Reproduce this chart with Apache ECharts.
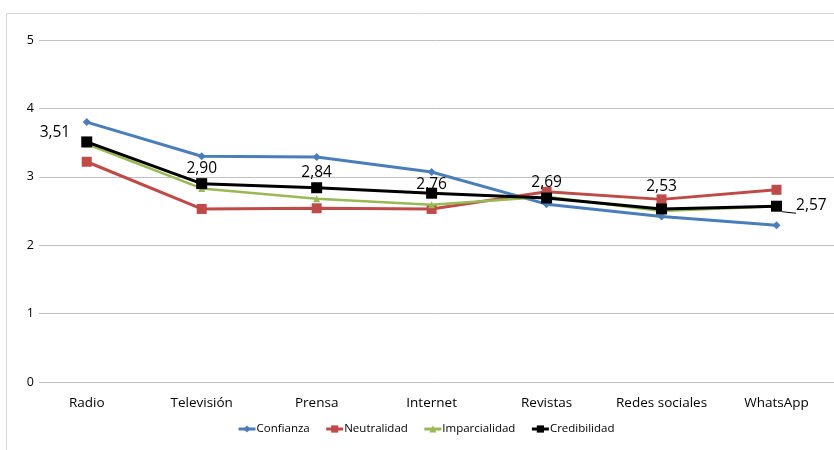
<!DOCTYPE html>
<html><head><meta charset="utf-8">
<script src="https://cdn.jsdelivr.net/npm/echarts@6/dist/echarts.min.js"></script>
<style>html,body{margin:0;padding:0;background:#fff}#c{width:834px;height:450px}</style>
</head><body><div id="c"></div>
<script>
const categories = ['Radio','Televisión','Prensa','Internet','Revistas','Redes sociales','WhatsApp'];
const confianza = [3.80, 3.30, 3.29, 3.07, 2.60, 2.42, 2.29];
const neutralidad = [3.22, 2.53, 2.54, 2.53, 2.78, 2.67, 2.81];
const imparcialidad = [3.48, 2.83, 2.68, 2.59, 2.71, 2.50, 2.57];
const credibilidad = [3.51, 2.90, 2.84, 2.76, 2.69, 2.53, 2.57];
const yTicks = [0, 1, 2, 3, 4, 5];

const FONT = 'Open Sans';
const chart = echarts.init(document.getElementById('c'), null, {renderer:'canvas'});
const fmt = v => v.toFixed(2).replace('.', ',');

const credData = credibilidad.map((v, i) => {
  const d = {value: v};
  if (i === 0) {
    d.label = {position: 'left', offset: [-9, -9]};
  } else if (i === categories.length - 1) {
    d.label = {position: 'right', offset: [12, -1]};
    d.labelLine = {show: true};
  } else if (i === 3) {
    d.label = {distance: -5};
  } else if (i === 5) {
    d.label = {distance: 9};
  }
  return d;
});

chart.setOption({
  animation: false,
  textStyle: {fontFamily: FONT},
  graphic: [{
    type: 'rect', shape: {x: 6.5, y: 13.5, width: 900, height: 500},
    style: {fill: 'none', stroke: '#d9d9d9', lineWidth: 1}, z: -1
  }],
  grid: [
    {left: 39, right: 0, top: 40, height: 342},
    {left: 29.25, width: 808.5, top: 40, height: 342}
  ],
  xAxis: [
    {gridIndex: 0, type: 'value', show: false, min: 0, max: 1},
    {gridIndex: 1, type: 'category', data: categories, boundaryGap: true,
     axisLine: {show: false}, axisTick: {show: false},
     axisLabel: {color: '#000', fontSize: 13.5, margin: 14, interval: 0, fontFamily: FONT}}
  ],
  yAxis: [
    {gridIndex: 0, type: 'value', min: 0, max: 5, interval: 1,
     axisLine: {show: false}, axisTick: {show: false},
     axisLabel: {color: '#000', fontSize: 12.5, margin: 5, fontFamily: FONT,
       formatter: v => yTicks.includes(v) ? String(v) : ''},
     splitLine: {lineStyle: {color: '#c0c0c0', width: 1}}},
    {gridIndex: 1, type: 'value', min: 0, max: 5, show: false, splitLine: {show: false}}
  ],
  legend: {
    bottom: 10, left: 232, itemGap: 15, itemWidth: 17, itemHeight: 9,
    lineStyle: {width: 3},
    textStyle: {color: '#000', fontSize: 11.5, fontFamily: FONT, padding: [0,0,0,-4]},
    data: ['Confianza','Neutralidad','Imparcialidad','Credibilidad']
  },
  series: [
    {name: 'Confianza', type: 'line', xAxisIndex: 1, yAxisIndex: 1, data: confianza,
     symbol: 'diamond', symbolSize: 8, color: '#4a7ebb', lineStyle: {width: 3, color: '#4a7ebb'},
     itemStyle: {color: '#4a7ebb'}, z: 2},
    {name: 'Neutralidad', type: 'line', xAxisIndex: 1, yAxisIndex: 1, data: neutralidad,
     symbol: 'rect', symbolSize: 10, lineStyle: {width: 3, color: '#be4b48'},
     itemStyle: {color: '#be4b48'}, z: 3},
    {name: 'Imparcialidad', type: 'line', xAxisIndex: 1, yAxisIndex: 1, data: imparcialidad,
     symbol: 'triangle', symbolSize: 7, lineStyle: {width: 2.5, color: '#98b954'},
     itemStyle: {color: '#98b954'}, z: 4},
    {name: 'Credibilidad', type: 'line', xAxisIndex: 1, yAxisIndex: 1, data: credData,
     symbol: 'rect', symbolSize: 11, lineStyle: {width: 3, color: '#000'},
     itemStyle: {color: '#000'}, z: 5,
     label: {show: true, position: 'top', distance: 2, color: '#000', fontSize: 15.5,
       fontFamily: FONT, formatter: p => fmt(p.value)},
     labelLine: {show: false, lineStyle: {color: '#000', width: 1}}}
  ]
});
</script></body></html>
